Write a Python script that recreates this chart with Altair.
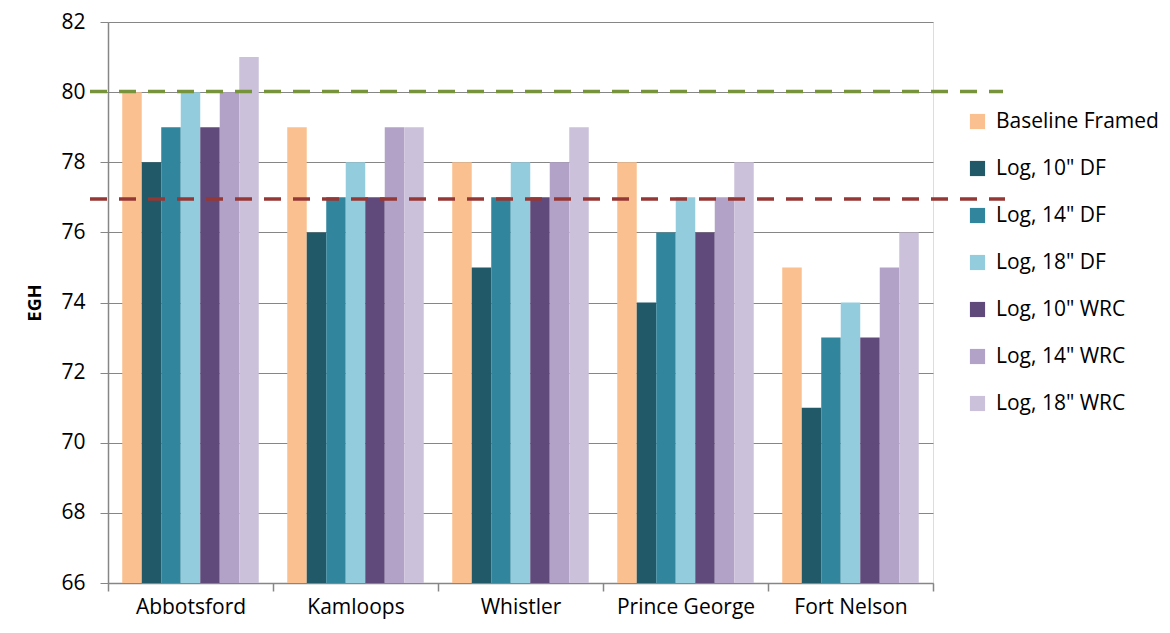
import altair as alt
import pandas as pd

cities = ["Abbotsford", "Kamloops", "Whistler", "Prince George", "Fort Nelson"]
series = ["Baseline Framed", "Log, 10\" DF", "Log, 14\" DF", "Log, 18\" DF",
          "Log, 10\" WRC", "Log, 14\" WRC", "Log, 18\" WRC"]
colors = ["#FAC090", "#215968", "#31859C", "#93CDDD", "#604A7B", "#B3A2C7", "#CCC1DA"]
values = {
    "Baseline Framed": [80, 79, 78, 78, 75],
    "Log, 10\" DF": [78, 76, 75, 74, 71],
    "Log, 14\" DF": [79, 77, 77, 76, 73],
    "Log, 18\" DF": [80, 78, 78, 77, 74],
    "Log, 10\" WRC": [79, 77, 77, 76, 73],
    "Log, 14\" WRC": [80, 79, 78, 77, 75],
    "Log, 18\" WRC": [81, 79, 79, 78, 76],
}
green_ref = 80.02
red_ref = 76.95

rows = []
for s in series:
    for c, v in zip(cities, values[s]):
        rows.append({"city": c, "series": s, "EGH": v})
df = pd.DataFrame(rows)

W, H = 825, 561
FONT = "Open Sans"
FS = 21

bars = alt.Chart(df).mark_bar(clip=True).encode(
    x=alt.X("city:N", sort=cities, title=None,
            scale=alt.Scale(paddingInner=0, paddingOuter=0),
            axis=alt.Axis(labelAngle=0, labelFontSize=FS, labelFont=FONT, labelColor="#000",
                          tickBand="extent", tickSize=8, tickColor="#868686",
                          domainColor="#868686", domainWidth=1.5, tickWidth=1.5,
                          labelPadding=5)),
    xOffset=alt.XOffset("series:N", sort=series,
                        scale=alt.Scale(paddingInner=0, paddingOuter=0.73)),
    y=alt.Y("EGH:Q", title="EGH",
            scale=alt.Scale(domain=[66, 82], zero=False, nice=False),
            axis=alt.Axis(values=list(range(66, 83, 2)), labelFontSize=FS, labelFont=FONT,
                          labelColor="#000", tickSize=8, tickColor="#868686",
                          gridColor="#868686", gridWidth=1.2, domainColor="#868686",
                          domainWidth=1.5, labelPadding=15,
                          titleFont=FONT, titleFontSize=18, titleFontWeight="bold",
                          titleColor="#000", titlePadding=16)),
    color=alt.Color("series:N", sort=series, title=None,
                    scale=alt.Scale(domain=series, range=colors),
                    legend=alt.Legend(orient="none", legendX=W + 34, legendY=89,
                                      symbolType="square", symbolSize=230,
                                      symbolStrokeWidth=0, labelFontSize=FS,
                                      labelFont=FONT, labelColor="#000", labelLimit=0,
                                      rowPadding=25, labelOffset=8)),
)

green = alt.Chart(pd.DataFrame({"y": [green_ref]})).mark_rule(
    color="#77933C", strokeWidth=3.5, strokeDash=[17, 12]
).encode(y="y:Q", x=alt.value(-18), x2=alt.value(W + 70))
red = alt.Chart(pd.DataFrame({"y": [red_ref]})).mark_rule(
    color="#953735", strokeWidth=3.5, strokeDash=[17, 12]
).encode(y="y:Q", x=alt.value(-18), x2=alt.value(W + 72))

chart = alt.layer(bars, green, red).properties(
    width=W, height=H,
    padding={"left": 18, "top": 3, "right": 0, "bottom": 6},
).configure_view(stroke=None).configure(background="white")

chart.save("out.html", embed_options={"renderer": "svg", "actions": False})
